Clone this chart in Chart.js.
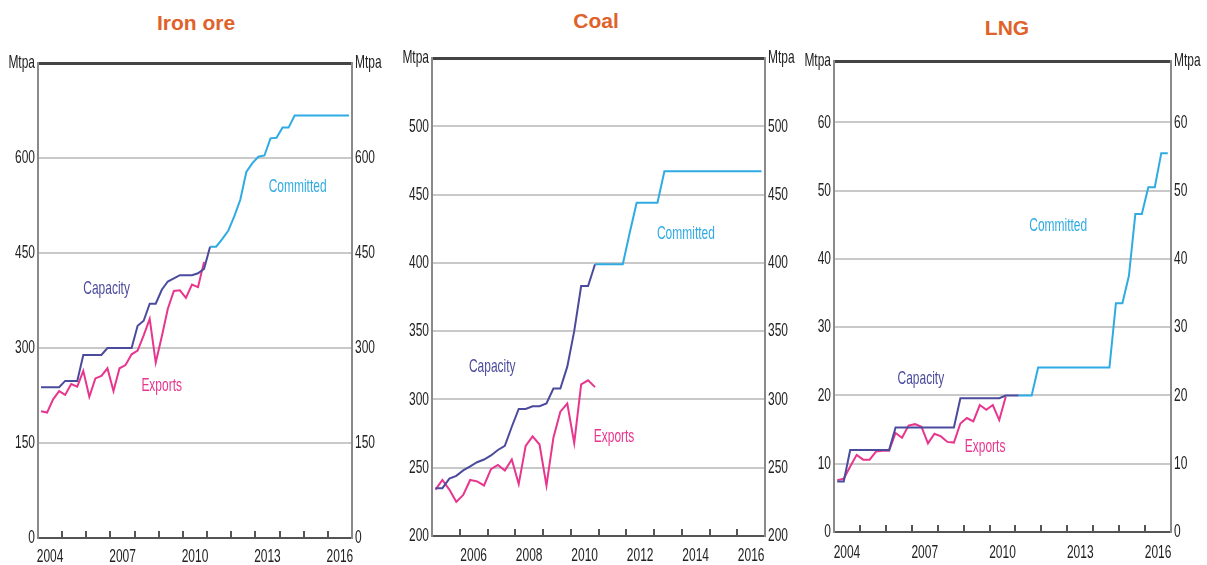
<!DOCTYPE html>
<html>
<head>
<meta charset="utf-8">
<script src="https://cdn.jsdelivr.net/npm/chart.js@4.4.1/dist/chart.umd.min.js"></script>
<style>
    body { margin: 0; background: #fff; width: 1207px; height: 565px; position: relative; overflow: hidden; }
    .panel { position: absolute; top: 0; height: 565px; }
    .title { position: absolute; width: 200px; text-align: center; line-height: 22px;
             font: bold 21px 'Liberation Sans', Arial, sans-serif; color: #e0622b; }
</style>
</head>
<body>
<div class="title" style="left:96px;top:11px">Iron ore</div>
<div class="title" style="left:496px;top:9px">Coal</div>
<div class="title" style="left:907px;top:16px">LNG</div>
<div class="panel" style="left:0;width:395px"><canvas id="iron"></canvas></div>
<div class="panel" style="left:395px;width:405px"><canvas id="coal"></canvas></div>
<div class="panel" style="left:800px;width:407px"><canvas id="lng"></canvas></div>
<script>
// Quarterly series, Mtpa. Each list starts at the quarter named in its *From constant.
const ironCapacityFrom = '2004Q1';
const ironCapacity = [238, 238, 238, 238, 248, 248, 248, 289, 289, 289, 289, 300, 300, 300, 300, 300,
    335, 343, 370, 370, 392, 405, 410, 415, 415, 415, 418, 425, 460];
const ironCommittedFrom = '2011Q1';
const ironCommitted = [460, 460, 472, 485, 508, 534, 578, 592, 602, 604, 631, 632, 648, 648, 667, 667,
    667, 667, 667, 667, 667, 667, 667, 667];
const ironExportsFrom = '2004Q1';
const ironExports = [200, 198, 219, 232, 226, 243, 239, 264, 223, 252, 256, 268, 232, 268, 273, 290,
    296, 320, 346, 277, 318, 362, 390, 391, 379, 400, 396, 436];

const coalCapacityFrom = '2005Q1';
const coalCapacity = [235, 235, 242, 244, 248, 251, 254, 256, 259, 263, 266, 280, 293, 293, 295, 295,
    297, 308, 308, 324, 350, 383, 383, 399];
const coalCommittedFrom = '2010Q4';
const coalCommitted = [399, 399, 399, 399, 399, 422, 444, 444, 444, 444, 467, 467, 467, 467, 467, 467,
    467, 467, 467, 467, 467, 467, 467, 467, 467];
const coalExportsFrom = '2005Q1';
const coalExports = [234, 241, 234, 225, 230, 241, 240, 237, 249, 252, 248, 256, 238, 266, 273, 267,
    237, 272, 291, 297, 268, 311, 314, 309];

const lngCapacityFrom = '2004Q1';
const lngCapacity = [7.4, 7.4, 12, 12, 12, 12, 12, 12, 12, 15.3, 15.3, 15.3, 15.3, 15.3, 15.3, 15.3,
    15.3, 15.3, 15.3, 19.6, 19.6, 19.6, 19.6, 19.6, 19.6, 19.6, 20, 20, 20];
const lngCommittedFrom = '2011Q1';
const lngCommitted = [20, 20, 20, 24.1, 24.1, 24.1, 24.1, 24.1, 24.1, 24.1, 24.1, 24.1, 24.1, 24.1, 24.1,
    33.5, 33.5, 37.5, 46.6, 46.6, 50.5, 50.5, 55.5, 55.5];
const lngExportsFrom = '2004Q1';
const lngExports = [7.6, 7.8, 9.6, 11.3, 10.6, 10.6, 11.8, 11.9, 11.9, 14.5, 13.8, 15.6, 15.8, 15.4, 13.0, 14.4,
    14.0, 13.2, 13.1, 15.9, 16.7, 16.2, 18.6, 17.9, 18.6, 16.4, 19.8];

// Year labels on the x axes
const ironYears = [2004, 2007, 2010, 2013, 2016];
const coalYears = [2006, 2008, 2010, 2012, 2014, 2016];
const lngYears = [2004, 2007, 2010, 2013, 2016];

const COLORS = {
    capacity: '#4b4b9d',
    exports: '#e8358e',
    committed: '#2fabe3',
};
const FONT = { family: "'Liberation Sans', Arial, sans-serif", size: 19 };
const TEXT_SQUEEZE = 0.63; // the source uses a narrow face

// '2004Q1' -> middle of that quarter as a decimal year
const quarterToYear = (q) => +q.slice(0, 4) + (+q.slice(5) - 0.5) / 4;
const toPoints = (from, values) => values.map((y, i) => ({ x: quarterToYear(from) + i * 0.25, y }));

// Draw every canvas text narrower, anchored at its own x so alignment holds
const condensedText = {
    id: 'condensedText',
    beforeInit(chart) {
        const ctx = chart.ctx;
        const fill = ctx.fillText.bind(ctx);
        ctx.fillText = (text, x, y) => {
            ctx.save();
            ctx.translate(x, y);
            ctx.scale(TEXT_SQUEEZE, 1);
            fill(text, 0, 0);
            ctx.restore();
        };
    },
};

// Text labels placed next to the lines, in data coordinates
const seriesLabels = {
    id: 'seriesLabels',
    afterDatasetsDraw(chart, args, opts) {
        const { ctx, scales: { x, y } } = chart;
        ctx.save();
        ctx.font = `${FONT.size}px ${FONT.family}`;
        ctx.textAlign = 'center';
        ctx.textBaseline = 'middle';
        opts.items.forEach((it) => {
            ctx.fillStyle = it.color;
            ctx.fillText(it.text, x.getPixelForValue(it.x), y.getPixelForValue(it.y));
        });
        ctx.restore();
    },
};

const line = (data, color) => ({
    data, borderColor: color, borderWidth: 2, pointRadius: 0, tension: 0, fill: false,
});

const buildPanel = (id, cfg) => {
    const { min, max, step, xMin, years, left, right, top, bottom, xPad } = cfg;

    const yTicks = {
        stepSize: step, color: '#222', font: FONT, padding: 3,
        callback: (v) => (v === max ? 'Mtpa' : v),
    };

    new Chart(document.getElementById(id), {
        type: 'line',
        data: {
            datasets: [
                line(cfg.committed, COLORS.committed),
                line(cfg.capacity, COLORS.capacity),
                line(cfg.exports, COLORS.exports),
            ],
        },
        options: {
            responsive: true,
            maintainAspectRatio: false,
            animation: false,
            layout: { padding: { top, left: 0, right: 0, bottom: 0 } },
            scales: {
                x: {
                    type: 'linear', min: xMin, max: 2017,
                    ticks: {
                        stepSize: 0.5, autoSkip: false, maxRotation: 0, color: '#222', font: FONT, padding: xPad,
                        callback: (v) => {
                            const yr = Math.round(v - 0.5);
                            return Math.abs(v - yr - 0.5) < 0.01 && years.includes(yr) ? String(yr) : '';
                        },
                    },
                    grid: {
                        drawOnChartArea: false, drawTicks: true, tickLength: -7, lineWidth: 2,
                        color: (c) => {
                            const v = c.tick ? c.tick.value : 0;
                            return Math.abs(v - Math.round(v)) < 0.01 && v > xMin && v < 2017 ? '#555' : 'rgba(0,0,0,0)';
                        },
                    },
                    border: { color: '#555', width: 2 },
                    afterFit: (s) => { s.height = bottom; },
                },
                y: {
                    position: 'left', min, max,
                    ticks: yTicks,
                    grid: {
                        drawTicks: false,
                        color: (c) => (c.tick.value === max ? '#444' : c.tick.value === min ? 'rgba(0,0,0,0)' : '#c9c9c9'),
                        lineWidth: (c) => (c.tick.value === max ? 3 : 2),
                    },
                    border: { color: '#8a8a8a', width: 2 },
                    afterFit: (s) => { s.width = left; },
                },
                y2: {
                    position: 'right', min, max,
                    ticks: yTicks,
                    grid: { drawOnChartArea: false, drawTicks: false },
                    border: { color: '#8a8a8a', width: 2 },
                    afterFit: (s) => { s.width = right; },
                },
            },
            plugins: {
                legend: { display: false },
                tooltip: { enabled: false },
                seriesLabels: { items: cfg.labels },
            },
        },
        plugins: [condensedText, seriesLabels],
    });
};

buildPanel('iron', {
    min: 0, max: 750, step: 150, xMin: 2004, years: ironYears,
    left: 38, right: 43, top: 63, bottom: 27, xPad: 14,
    capacity: toPoints(ironCapacityFrom, ironCapacity),
    committed: toPoints(ironCommittedFrom, ironCommitted),
    exports: toPoints(ironExportsFrom, ironExports),
    labels: [
        { text: 'Capacity', x: 2006.84, y: 393, color: COLORS.capacity },
        { text: 'Exports', x: 2009.12, y: 240, color: COLORS.exports },
        { text: 'Committed', x: 2014.75, y: 555, color: COLORS.committed },
    ],
});

buildPanel('coal', {
    min: 200, max: 550, step: 50, xMin: 2005, years: coalYears,
    left: 37, right: 35, top: 58, bottom: 29, xPad: 15,
    capacity: toPoints(coalCapacityFrom, coalCapacity),
    committed: toPoints(coalCommittedFrom, coalCommitted),
    exports: toPoints(coalExportsFrom, coalExports),
    labels: [
        { text: 'Capacity', x: 2007.17, y: 324, color: COLORS.capacity },
        { text: 'Exports', x: 2011.56, y: 273, color: COLORS.exports },
        { text: 'Committed', x: 2014.15, y: 421, color: COLORS.committed },
    ],
});

buildPanel('lng', {
    min: 0, max: 69, step: 10, xMin: 2004, years: lngYears,
    left: 34, right: 36, top: 61, bottom: 33, xPad: 16,
    capacity: toPoints(lngCapacityFrom, lngCapacity),
    committed: toPoints(lngCommittedFrom, lngCommitted),
    exports: toPoints(lngExportsFrom, lngExports),
    labels: [
        { text: 'Capacity', x: 2007.35, y: 22.5, color: COLORS.capacity },
        { text: 'Exports', x: 2009.83, y: 12.5, color: COLORS.exports },
        { text: 'Committed', x: 2012.65, y: 44.9, color: COLORS.committed },
    ],
});
</script>
</body>
</html>
